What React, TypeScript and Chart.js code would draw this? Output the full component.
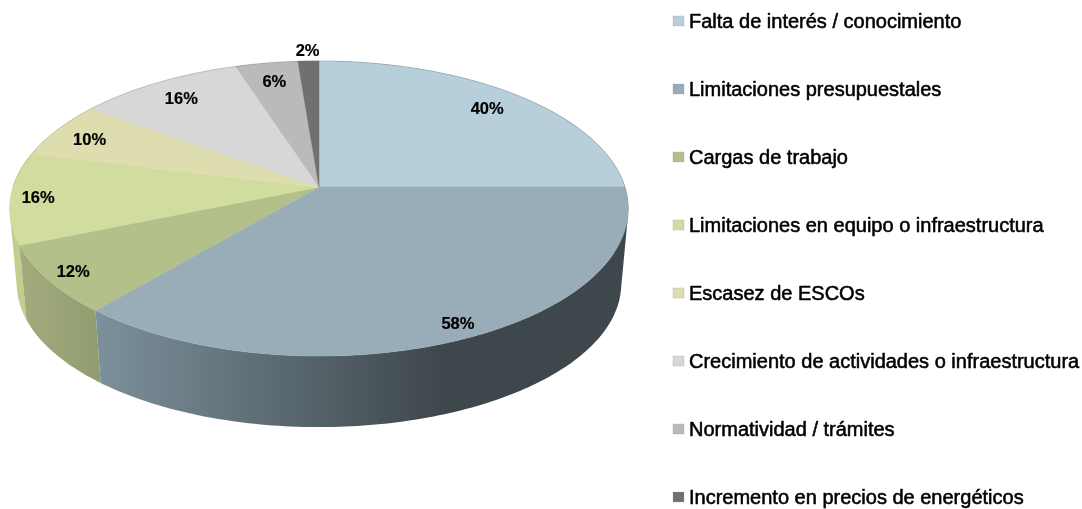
import React, { useEffect, useRef } from "react";
import { Chart, registerables } from "chart.js";

Chart.register(...registerables);

const categories = [
  "Falta de interés / conocimiento",
  "Limitaciones presupuestales",
  "Cargas de trabajo",
  "Limitaciones en equipo o infraestructura",
  "Escasez de ESCOs",
  "Crecimiento de actividades o infraestructura",
  "Normatividad / trámites",
  "Incremento en precios de energéticos",
];
const values = [40, 58, 12, 16, 10, 16, 6, 2];
const topColors = ["#B7CFDB", "#98ADB8", "#B3C08A", "#D1DD9F", "#DEDDAF", "#D7D7D7", "#BABABA", "#707070"];
const wallColors = [
  ["#3E474C", "#3E474C"],
  ["#7C919B", "#3E474C"],
  ["#A3AB7E", "#929E70"],
  ["#C2CD8E", "#C2CD8E"],
  ["#B5B48C", "#B5B48C"],
  ["#AAAAAA", "#AAAAAA"],
  ["#939393", "#939393"],
  ["#555555", "#555555"],
];
const labelRadii = [0.845, 0.919, 0.915, 0.911, 0.863, 0.841, 0.838, 1.1];
const labelAngleNudge = [0, -1, 0, 0, -0.7, 0, 0, 0];

const PERSPECTIVE = -0.1458;
const FORESHORTEN = 0.4719;

const fakeBoldText = (ctx: CanvasRenderingContext2D, text: string, x: number, y: number, w: number) => {
  ctx.fillStyle = "#000";
  ctx.strokeStyle = "#000";
  ctx.lineWidth = w;
  ctx.lineJoin = "round";
  ctx.fillText(text, x, y);
  ctx.strokeText(text, x, y);
};

const pie3d = {
  id: "pie3d",
  beforeDatasetsDraw(chart: any) {
    const ctx: CanvasRenderingContext2D = chart.ctx;
    const arcs = chart.getDatasetMeta(0).data;
    const project = (el: any, a: number, frac: number) => {
      const u = frac * Math.cos(a);
      const v = frac * Math.sin(a);
      const d = 1 + PERSPECTIVE * v;
      return {
        x: el.x + (el.outerRadius * u) / d,
        y: el.y + (el.outerRadius * FORESHORTEN * v) / d,
      };
    };
    const lower = (el: any, p: { x: number; y: number }) => ({
      x: el.x + 0.977 * (p.x - el.x),
      y: el.y + 97 + 0.97 * (p.y - el.y - 21.5),
    });
    const samples = (el: any) => {
      const n = Math.max(4, Math.ceil(((el.endAngle - el.startAngle) * 180) / Math.PI));
      const out: number[] = [];
      for (let i = 0; i <= n; i++) out.push(el.startAngle + ((el.endAngle - el.startAngle) * i) / n);
      return out;
    };

    // side wall, back to front; facets share one path, all wound the same way
    const order = arcs
      .map((el: any, i: number) => ({ el, i, s: Math.sin((el.startAngle + el.endAngle) / 2) }))
      .sort((p: any, q: any) => p.s - q.s);
    order.forEach(({ el, i }: any) => {
      const rim = samples(el).map((a) => project(el, a, 1));
      const base = rim.map((p) => lower(el, p));
      const xs = rim.map((p) => p.x);
      const left = Math.min(...xs);
      const right = Math.max(...xs);
      const grad = ctx.createLinearGradient(left, 0, Math.max(left + 1, i === 1 ? el.x + 122 : right), 0);
      grad.addColorStop(0, wallColors[i][0]);
      grad.addColorStop(1, wallColors[i][1]);
      ctx.fillStyle = grad;
      ctx.beginPath();
      for (let k = 0; k < rim.length - 1; k++) {
        let quad = [rim[k], rim[k + 1], base[k + 1], base[k]];
        let area = 0;
        quad.forEach((p, j) => {
          const q = quad[(j + 1) % 4];
          area += p.x * q.y - q.x * p.y;
        });
        if (area < 0) quad = quad.slice().reverse();
        quad.forEach((p, j) => (j ? ctx.lineTo(p.x, p.y) : ctx.moveTo(p.x, p.y)));
        ctx.closePath();
      }
      ctx.fill("nonzero");
    });

    // top face
    arcs.forEach((el: any, i: number) => {
      ctx.beginPath();
      ctx.moveTo(el.x, el.y);
      samples(el).forEach((a) => {
        const p = project(el, a, 1);
        ctx.lineTo(p.x, p.y);
      });
      ctx.closePath();
      ctx.fillStyle = topColors[i];
      ctx.strokeStyle = topColors[i];
      ctx.lineWidth = 0.5;
      ctx.fill();
      ctx.stroke();
    });

    // faint rim at the back of the disc
    ctx.beginPath();
    const first = arcs[0];
    for (let k = 0; k <= 180; k++) {
      const p = project(first, Math.PI + (Math.PI * k) / 180, 1);
      k ? ctx.lineTo(p.x, p.y) : ctx.moveTo(p.x, p.y);
    }
    ctx.strokeStyle = "rgba(110,110,110,0.3)";
    ctx.lineWidth = 0.8;
    ctx.stroke();

    // value labels
    ctx.font = 'bold 16.5px "Liberation Sans"';
    ctx.textAlign = "center";
    ctx.textBaseline = "middle";
    arcs.forEach((el: any, i: number) => {
      const mid = (el.startAngle + el.endAngle) / 2 + (labelAngleNudge[i] * Math.PI) / 180;
      const p = project(el, mid, labelRadii[i]);
      fakeBoldText(ctx, `${values[i]}%`, p.x, p.y + 1.5, 0.2);
    });
    return false;
  },
  afterDraw(chart: any) {
    const ctx: CanvasRenderingContext2D = chart.ctx;
    ctx.save();
    ctx.font = '20px "Liberation Sans"';
    ctx.textAlign = "left";
    ctx.textBaseline = "middle";
    categories.forEach((name, i) => {
      const y = 21 + 68 * i;
      ctx.fillStyle = topColors[i];
      ctx.fillRect(673, y - 5, 11, 10);
      ctx.strokeStyle = "rgba(150,150,150,0.45)";
      ctx.lineWidth = 0.6;
      ctx.strokeRect(673, y - 5, 11, 10);
      fakeBoldText(ctx, name, 689, y + 1, 0.55);
    });
    ctx.restore();
  },
};

export default function App() {
  const ref = useRef<HTMLCanvasElement>(null);
  useEffect(() => {
    const chart = new Chart(ref.current as HTMLCanvasElement, {
      type: "pie",
      data: {
        labels: categories,
        datasets: [{ data: values, backgroundColor: topColors, borderWidth: 0, radius: 306 }],
      },
      options: {
        animation: false,
        responsive: false,
        layout: { padding: { left: 13, right: 457, top: 0, bottom: 135 } },
        plugins: { legend: { display: false }, tooltip: { enabled: false } },
      },
      plugins: [pie3d],
    } as any);
    return () => chart.destroy();
  }, []);
  return (
    <canvas
      ref={ref}
      width={1082}
      height={509}
      style={{ position: "absolute", left: 0, top: 0, display: "block", background: "#fff" }}
    />
  );
}
